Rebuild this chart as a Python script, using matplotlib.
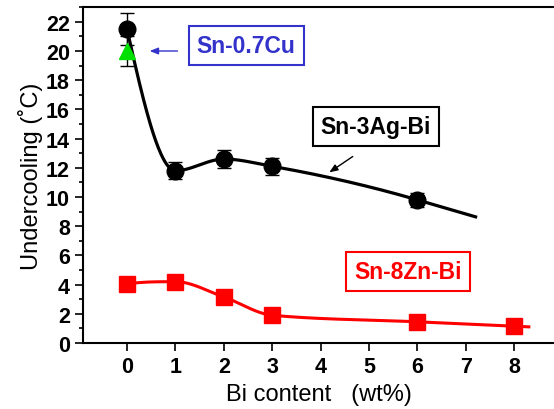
import matplotlib

matplotlib.use("Agg")

import matplotlib.pyplot as plt
import numpy as np
from matplotlib.ticker import MultipleLocator

plt.rcParams["font.family"] = ["Liberation Sans", "DejaVu Sans"]

# Sn-3Ag-Bi
ag_bi = [0, 1, 2, 3, 6]
ag_cool = [21.5, 11.8, 12.6, 12.1, 9.8]
ag_err = [1.1, 0.6, 0.6, 0.6, 0.5]

# Sn-0.7Cu reference
cu_bi = [0]
cu_cool = [20.0]
cu_err = [1.0]

# Sn-8Zn-Bi
zn_bi = [0, 1, 2, 3, 6, 8]
zn_cool = [4.05, 4.2, 3.15, 1.9, 1.45, 1.15]

x_ticks = [0, 1, 2, 3, 4, 5, 6, 7, 8]


def pchip_curve(x, y, x_end, n=400):
    # monotone cubic (Fritsch-Carlson) through the points, linear past the last one
    x = np.asarray(x, float)
    y = np.asarray(y, float)
    h = np.diff(x)
    delta = np.diff(y) / h
    k = len(x)
    m = np.zeros(k)
    for i in range(1, k - 1):
        if delta[i - 1] * delta[i] > 0:
            w1 = 2 * h[i] + h[i - 1]
            w2 = h[i] + 2 * h[i - 1]
            m[i] = (w1 + w2) / (w1 / delta[i - 1] + w2 / delta[i])
    for i, j, s in ((0, 0, 1), (k - 1, k - 2, -1)):
        hh0, hh1 = (h[0], h[1]) if s == 1 else (h[-1], h[-2])
        d0, d1 = (delta[0], delta[1]) if s == 1 else (delta[-1], delta[-2])
        v = ((2 * hh0 + hh1) * d0 - hh0 * d1) / (hh0 + hh1)
        if np.sign(v) != np.sign(d0):
            v = 0.0
        elif np.sign(d0) != np.sign(d1) and abs(v) > abs(3 * d0):
            v = 3 * d0
        m[i] = v
    xs = np.linspace(x[0], x_end, n)
    ys = np.empty_like(xs)
    for j, xv in enumerate(xs):
        if xv > x[-1]:
            ys[j] = y[-1] + m[-1] * (xv - x[-1])
            continue
        i = min(np.searchsorted(x, xv, side="right") - 1, k - 2)
        t = (xv - x[i]) / h[i]
        h00 = 2 * t ** 3 - 3 * t ** 2 + 1
        h10 = t ** 3 - 2 * t ** 2 + t
        h01 = -2 * t ** 3 + 3 * t ** 2
        h11 = t ** 3 - t ** 2
        ys[j] = h00 * y[i] + h10 * h[i] * m[i] + h01 * y[i + 1] + h11 * h[i] * m[i + 1]
    return xs, ys


fig = plt.figure(figsize=(5.54, 4.10), dpi=100)
ax = fig.add_axes([0.1498, 0.161, 0.8502, 0.819])

xs, ys = pchip_curve(ag_bi, ag_cool, 7.2)
ax.plot(xs, ys, color="black", lw=2.3)
ax.errorbar(ag_bi, ag_cool, yerr=ag_err, fmt="o", color="black", ms=12,
            capsize=5, elinewidth=1, capthick=1, zorder=4)
ax.errorbar(cu_bi, cu_cool, yerr=cu_err, fmt="^", color="#00e000", mec="#00e000",
            ms=12, ecolor="black", capsize=5, elinewidth=1, capthick=1, zorder=5)

xs, ys = pchip_curve(zn_bi, zn_cool, 8.3)
ax.plot(xs, ys, color="red", lw=2.2)
ax.plot(zn_bi, zn_cool, "s", color="red", ms=11, zorder=4)

ax.set_xlim(-0.91, 8.82)
ax.set_ylim(0, 23)
ax.set_xticks(x_ticks)
ax.yaxis.set_major_locator(MultipleLocator(2))
ax.yaxis.set_minor_locator(MultipleLocator(1))
ax.spines["right"].set_visible(False)
for s in ("left", "bottom", "top"):
    ax.spines[s].set_linewidth(1.5)
ax.tick_params(which="major", direction="out", length=6, width=1.2,
               labelsize=15.5, top=False, right=False)
ax.tick_params(which="minor", direction="out", length=3, width=1.2)
for lab in ax.get_xticklabels() + ax.get_yticklabels():
    lab.set_fontweight("bold")

ax.set_xlabel("Bi content   (wt%)", fontsize=17, labelpad=4)
ax.set_ylabel("Undercooling (˚C)", fontsize=17, labelpad=2)

box_kw = dict(boxstyle="square,pad=0.35", fc="white", lw=1.5)
ax.text(2.46, 20.4, "Sn-0.7Cu", color="#3333cc", fontsize=16.5, fontweight="bold",
        ha="center", va="center", bbox=dict(ec="#3333cc", **box_kw))
ax.annotate("", xy=(0.41, 20.0), xytext=(1.1, 20.0),
            arrowprops=dict(arrowstyle="-|>,head_length=0.5,head_width=0.2",
                            color="#3333cc", lw=1))

ax.text(5.14, 14.86, "Sn-3Ag-Bi", color="black", fontsize=16.5, fontweight="bold",
        ha="center", va="center", bbox=dict(ec="black", **box_kw))
ax.annotate("", xy=(4.13, 11.58), xytext=(4.71, 12.88),
            arrowprops=dict(arrowstyle="-|>,head_length=0.5,head_width=0.2",
                            color="black", lw=1))

ax.text(5.8, 4.9, "Sn-8Zn-Bi", color="red", fontsize=16.5, fontweight="bold",
        ha="center", va="center", bbox=dict(ec="red", **box_kw))

fig.savefig("out.png", dpi=100)
